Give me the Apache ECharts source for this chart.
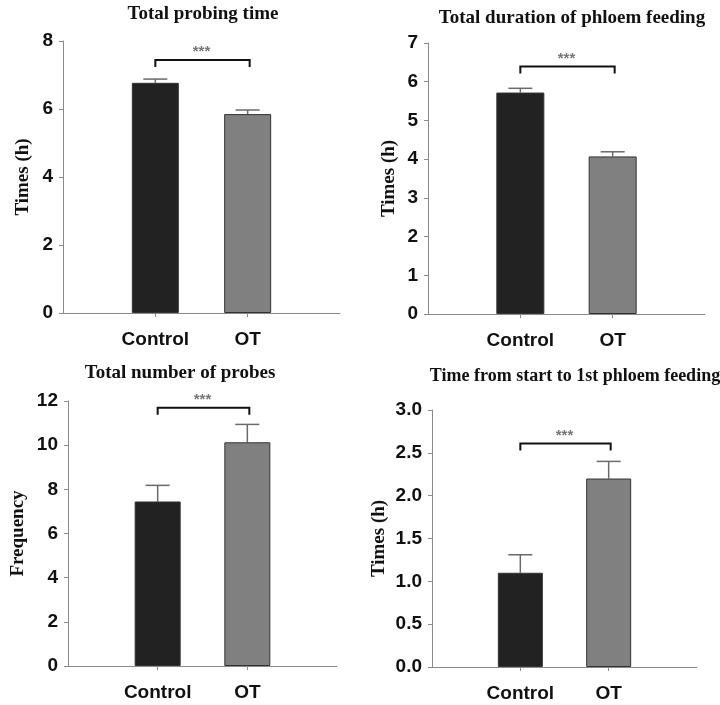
<!DOCTYPE html>
<html>
<head>
<meta charset="utf-8">
<script src="https://cdn.jsdelivr.net/npm/echarts@6/dist/echarts.min.js"></script>
<style>html,body{margin:0;padding:0;background:#fff}#c{width:720px;height:705px}</style>
</head>
<body>
<div id="c"></div>
<script>
// ---- data ----
const categories = ['Control', 'OT'];
const panelTitles = ['Total probing time', 'Total duration of phloem feeding', 'Total number of probes', 'Time from start to 1st phloem feeding'];
const axisNames = ['Times (h)', 'Times (h)', 'Frequency', 'Times (h)'];
const probingTime = [6.77, 5.85];
const probingTimeErr = [0.11, 0.12];
const phloemDuration = [5.72, 4.07];
const phloemDurationErr = [0.11, 0.12];
const probeCount = [7.45, 10.13];
const probeCountErr = [0.73, 0.81];
const firstPhloem = [1.10, 2.20];
const firstPhloemErr = [0.21, 0.20];
const sigLevel = [7.44, 6.39, 11.70, 2.61];
const sigLabel = ['***', '***', '***', '***'];
const yMax = [8, 7, 12, 3];
const yStep = [2, 1, 2, 0.5];

// ---- layout/style ----
const grids = [
  {left: 63, top: 41, width: 277, height: 272},
  {left: 428, top: 43, width: 277, height: 271},
  {left: 68, top: 401, width: 269, height: 265},
  {left: 432, top: 410, width: 265, height: 257}
];
const barWidths = [47, 48, 46, 45];
const nameGaps = [30, 29, 40, 43];
const titlePos = [[203, 14], [572, 18], [180, 373], [575, 376]];
const titleSizes = [19, 19, 19, 18];
const barColors = ['#222222', '#808080'];
const axisGray = '#8a8a8a';

const means = [probingTime, phloemDuration, probeCount, firstPhloem];
const errs = [probingTimeErr, phloemDurationErr, probeCountErr, firstPhloemErr];
const xData = [''].concat(categories, ['']);

const option = {
  animation: false,
  grid: grids.map(g => Object.assign({containLabel: false}, g)),
  graphic: panelTitles.map((t, i) => ({
    type: 'text', x: titlePos[i][0], y: titlePos[i][1],
    style: {text: t, textAlign: 'center', textVerticalAlign: 'middle',
      font: 'bold ' + titleSizes[i] + 'px "Liberation Serif"', fill: '#111'}
  })),
  xAxis: grids.map((g, i) => ({
    type: 'category', gridIndex: i, data: xData, boundaryGap: false,
    axisLine: {lineStyle: {color: axisGray, width: 1}},
    axisTick: {length: 4, interval: (idx) => idx === 1 || idx === 2, lineStyle: {color: axisGray}},
    axisLabel: {interval: 0, margin: 17, fontFamily: 'Liberation Sans', fontWeight: 'bold', fontSize: 19, color: '#111'},
    splitLine: {show: false}
  })),
  yAxis: grids.map((g, i) => ({
    type: 'value', gridIndex: i, min: 0, max: yMax[i], interval: yStep[i],
    name: axisNames[i], nameLocation: 'middle', nameRotate: 90, nameGap: nameGaps[i],
    nameTextStyle: {fontFamily: 'Liberation Serif', fontWeight: 'bold', fontSize: 19, color: '#111'},
    axisLine: {show: true, lineStyle: {color: axisGray, width: 1}},
    axisTick: {show: true, length: 4, lineStyle: {color: axisGray}},
    axisLabel: {margin: 10, fontFamily: 'Liberation Sans', fontWeight: 'bold', fontSize: 19, color: '#111',
      formatter: v => (yStep[i] < 1 ? v.toFixed(1) : String(v))},
    splitLine: {show: false}
  })),
  series: []
};

means.forEach((m, i) => {
  option.series.push({
    type: 'bar', xAxisIndex: i, yAxisIndex: i, barWidth: barWidths[i], z: 2,
    data: [null].concat(m.map((v, k) => ({value: v, itemStyle: {color: barColors[k], borderColor: '#333', borderWidth: 1}})), [null])
  });
  option.series.push({
    type: 'custom', xAxisIndex: i, yAxisIndex: i, z: 1,
    data: m.map((v, k) => [k + 1, v, errs[i][k]]),
    renderItem: (params, api) => {
      const x = api.value(0), v = api.value(1), e = api.value(2);
      const p0 = api.coord([x, v]), p1 = api.coord([x, v + e]);
      return {type: 'group', children: [
        {type: 'line', shape: {x1: p0[0], y1: p0[1], x2: p1[0], y2: p1[1]}, style: {stroke: '#6a6a6a', lineWidth: 1.5}},
        {type: 'line', shape: {x1: p1[0] - 12, y1: p1[1], x2: p1[0] + 12, y2: p1[1]}, style: {stroke: '#6a6a6a', lineWidth: 1.5}}
      ]};
    }
  });
  option.series.push({
    type: 'custom', xAxisIndex: i, yAxisIndex: i, z: 3,
    data: [[1, 2, sigLevel[i]]],
    renderItem: (params, api) => {
      const a = api.coord([api.value(0), api.value(2)]);
      const b = api.coord([api.value(1), api.value(2)]);
      const leg = 7;
      return {type: 'group', children: [
        {type: 'polyline', shape: {points: [[a[0], a[1] + leg], [a[0], a[1]], [b[0] + 2, a[1]], [b[0] + 2, a[1] + leg]]},
          style: {stroke: '#111', lineWidth: 2, fill: null}},
        {type: 'text', x: (a[0] + b[0]) / 2, y: a[1] - 8,
          style: {text: sigLabel[i], textAlign: 'center', textVerticalAlign: 'middle', font: 'bold 15px "Liberation Sans"', fill: '#777'}}
      ]};
    }
  });
});

echarts.init(document.getElementById('c')).setOption(option);
</script>
</body>
</html>
